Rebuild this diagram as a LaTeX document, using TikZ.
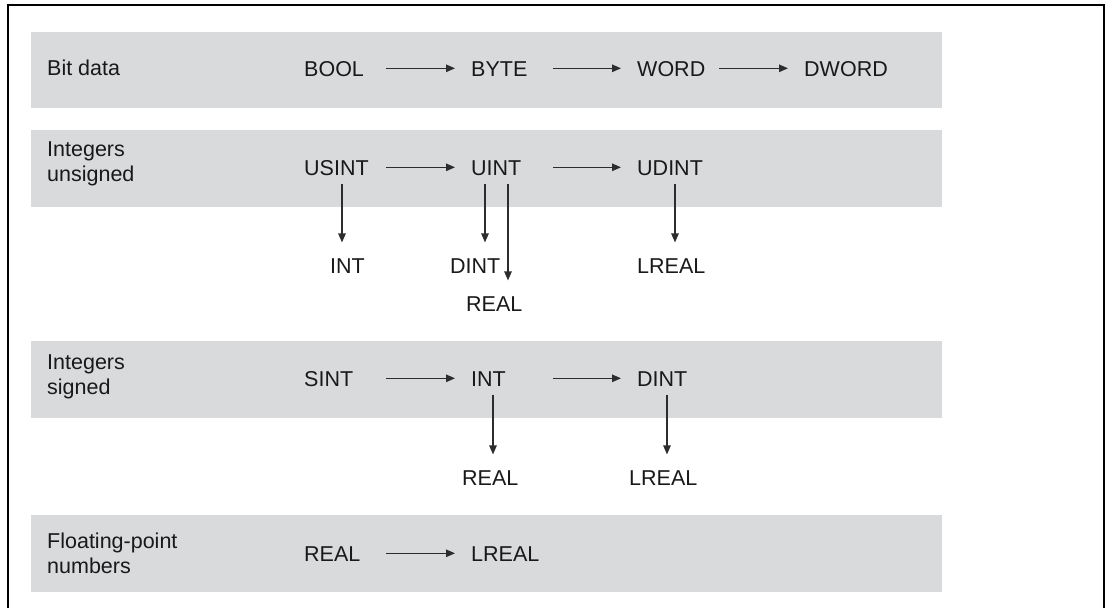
\documentclass[tikz,border=0pt]{standalone}
\usepackage{fontspec}
\setmainfont{Liberation Sans}
\usetikzlibrary{arrows.meta}
\definecolor{bandgrey}{RGB}{217,218,220}
\definecolor{arrowgrey}{RGB}{45,45,45}

\begin{document}
\begin{tikzpicture}[x=1pt,y=1pt,
    every node/.style={inner sep=0pt, font=\fontsize{21.5}{25}\selectfont, text=black!90},
    dtype/.style={anchor=base west, text width=82pt, align=left, text height=15.4pt, text depth=0pt},
    lowtype/.style={anchor=base west, text height=15.4pt, text depth=0pt},
    category/.style={anchor=north west, align=left},
    conv/.style={-{Triangle[length=9pt,width=7.5pt]}, line width=1.2pt, arrowgrey, shorten >=16pt},
    convdown/.style={conv, shorten >=15pt}]
        \useasboundingbox (0,0) rectangle (1109,-608);

        % Outer frame, open at the bottom
        \draw[line width=2pt] (7.5,-608) |- (1104,-5) -- (1104,-608);

        % Grey bands for the four groups
        \foreach \ya/\yb in {32/108, 130/207, 341/418, 515/592} {
            \fill[bandgrey] (31,-\ya) rectangle (942,-\yb);
        }

        % Group names
        \node[category] (bitdata) at (47,-60) {Bit data};
        \node[category] (intunsigned) at (47,-142) {Integers\\unsigned};
        \node[category] (intsigned) at (47,-355) {Integers\\signed};
        \node[category] (floating) at (47,-533) {Floating-point\\numbers};

        % Bit data
        \node[dtype] (bool) at (304,-76) {BOOL};
        \node[dtype] (byte) at (471,-76) {BYTE};
        \node[dtype] (word) at (637,-76) {WORD};
        \node[dtype] (dword) at (804,-76) {DWORD};
        \draw[conv] (bool.east) -- (byte.west);
        \draw[conv] (byte.east) -- (word.west);
        \draw[conv] (word.east) -- (dword.west);

        % Integers unsigned
        \node[dtype] (usint) at (304,-175) {USINT};
        \node[dtype] (uint) at (471,-175) {UINT};
        \node[dtype] (udint) at (637,-175) {UDINT};
        \draw[conv] (usint.east) -- (uint.west);
        \draw[conv] (uint.east) -- (udint.west);

        \node[lowtype] (uToInt) at (330,-273) {INT};
        \node[lowtype] (uToDint) at (450,-273) {DINT};
        \node[lowtype] (uToReal) at (466,-311) {REAL};
        \node[lowtype] (uToLreal) at (637,-273) {LREAL};
        \draw[convdown] ([shift={(38,-8.5)}]usint.south west) coordinate (a) -- (a |- uToInt.north);
        \draw[convdown] ([shift={(14,-8.5)}]uint.south west) coordinate (a) -- (a |- uToDint.north);
        \draw[convdown] ([shift={(37,-8.5)}]uint.south west) coordinate (a) -- (a |- uToReal.north);
        \draw[convdown] ([shift={(38,-8.5)}]udint.south west) coordinate (a) -- (a |- uToLreal.north);

        % Integers signed
        \node[dtype] (sint) at (304,-386) {SINT};
        \node[dtype] (int) at (471,-386) {INT};
        \node[dtype] (dint) at (637,-386) {DINT};
        \draw[conv] (sint.east) -- (int.west);
        \draw[conv] (int.east) -- (dint.west);

        \node[lowtype] (sToReal) at (462,-485) {REAL};
        \node[lowtype] (sToLreal) at (629,-485) {LREAL};
        \draw[convdown] ([shift={(22,-8.5)}]int.south west) coordinate (a) -- (a |- sToReal.north);
        \draw[convdown] ([shift={(30,-8.5)}]dint.south west) coordinate (a) -- (a |- sToLreal.north);

        % Floating-point numbers
        \node[dtype] (real) at (304,-561) {REAL};
        \node[dtype] (lreal) at (471,-561) {LREAL};
        \draw[conv] (real.east) -- (lreal.west);

\end{tikzpicture}
\end{document}
